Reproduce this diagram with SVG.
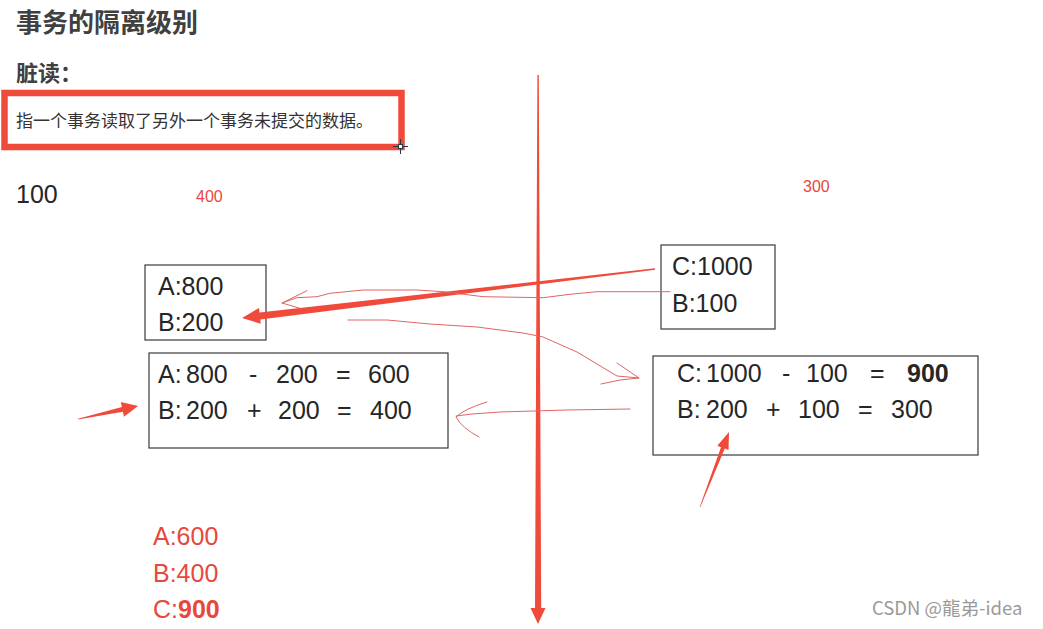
<svg xmlns="http://www.w3.org/2000/svg" width="1043" height="629" viewBox="0 0 1043 629">
<style>
.cn{font-family:"Noto Sans CJK SC","Noto Sans",sans-serif;}
.num{font-family:"Liberation Sans","DejaVu Sans",sans-serif;font-size:25px;fill:#262626;}
.small{font-size:16px;}
.red{fill:#e8483b;}
.box{fill:none;stroke:#3a3a3a;stroke-width:1.2;}
.thin{fill:none;stroke:#e26464;stroke-width:1;stroke-linecap:round;stroke-linejoin:round;}
.thick{fill:#f04a3a;stroke:none;}
</style>
<rect width="1043" height="629" fill="#ffffff"/>

<g id="title">
<text class="cn" x="16" y="32" font-size="26" font-weight="bold" fill="#404040">事务的隔离级别</text>
</g>
<g id="subtitle">
<text class="cn" x="16" y="81" font-size="22" font-weight="bold" fill="#404040">脏读：</text>
</g>
<g id="definition">
<rect x="4.5" y="93" width="397" height="54" fill="none" stroke="#f04a3a" stroke-width="6.5"/>
<text class="cn" x="16" y="127" font-size="17" fill="#333333">指一个事务读取了另外一个事务未提交的数据。</text>
</g>
<g id="cursor" stroke="#2a3a40" stroke-width="1" fill="none">
<line x1="400.5" y1="139" x2="400.5" y2="154"/>
<line x1="393" y1="146.5" x2="408" y2="146.5"/>
<rect x="398.5" y="144.5" width="4" height="4" fill="#ffffff"/>
</g>

<g id="label-100"><text class="num" x="16" y="203" fill="#333333">100</text></g>
<g id="label-400"><text class="num small red" x="196" y="202">400</text></g>
<g id="label-300"><text class="num small red" x="803" y="192">300</text></g>

<g id="box-ab">
<rect class="box" x="145" y="265" width="121" height="75"/>
<text class="num" x="158" y="295">A:800</text>
<text class="num" x="158" y="331">B:200</text>
</g>

<g id="box-ab-calc">
<rect class="box" x="149" y="353" width="299" height="95"/>
<text class="num" y="383"><tspan x="158">A:</tspan><tspan x="186">800</tspan><tspan x="249">-</tspan><tspan x="276">200</tspan><tspan x="336">=</tspan><tspan x="368">600</tspan></text>
<text class="num" y="419"><tspan x="158">B:</tspan><tspan x="186">200</tspan><tspan x="247">+</tspan><tspan x="278">200</tspan><tspan x="337">=</tspan><tspan x="370">400</tspan></text>
</g>

<g id="box-cb">
<rect class="box" x="661" y="245" width="114" height="84"/>
<text class="num" x="672" y="275">C:1000</text>
<text class="num" x="672" y="312">B:100</text>
</g>

<g id="box-cb-calc">
<rect class="box" x="653" y="356" width="325" height="99"/>
<text class="num" y="382"><tspan x="677">C:</tspan><tspan x="706">1000</tspan><tspan x="782">-</tspan><tspan x="806">100</tspan><tspan x="870">=</tspan><tspan x="907" font-weight="bold">900</tspan></text>
<text class="num" y="418"><tspan x="677">B:</tspan><tspan x="706">200</tspan><tspan x="766">+</tspan><tspan x="798">100</tspan><tspan x="858">=</tspan><tspan x="891">300</tspan></text>
</g>

<g id="result">
<text class="num red" x="153" y="545">A:600</text>
<text class="num red" x="153" y="582">B:400</text>
<text class="num red" x="153" y="618">C:<tspan font-weight="bold">900</tspan></text>
</g>

<g id="connectors">
<polygon class="thick" points="537.4,75 538.8,75 541.2,608 545.5,608 538,624 530.5,608 535,608"/>
<polygon class="thick" points="242,318 259,307.9 259.5,312.4 654.9,268.3 655.1,269.7 260.3,319.4 260.8,323.8"/>
<polygon class="thick" points="138,406 120.8,402.1 121.9,407 78,418.8 78,419.4 122.9,411.8 124,416.7"/>
<polygon class="thick" points="729,432 717.3,445.7 721,447.2 699.7,506.9 700.3,507.1 724.8,448.6 728.5,450.1"/>
<path class="thin" d="M670,291.7 L597,291.7 L570,294.3 L543,297.7 L483,296.7 L443,291.7 L417,290 L363,290 L330,293.3 L317,296.7 L297,297.7 L282,303"/>
<path class="thin" d="M307,290.7 L282,303 L300,308.3"/>
<path class="thin" d="M348,320 L387,320 L430,324 L477,327 L523,333 L543,337 L577,352 L617,376 L639,378"/>
<path class="thin" d="M617,363 L639,378 L620,380 L601,384"/>
<path class="thin" d="M630,409 L567,410 L500,412 L472,414 L456,416"/>
<path class="thin" d="M487,402 Q464,409 456,417 Q462,428 479,437"/>
</g>

<g id="watermark">
<text class="cn" x="872" y="615" font-size="18.5" fill="#9a9a9a">CSDN @龍弟-idea</text>
</g>
</svg>
